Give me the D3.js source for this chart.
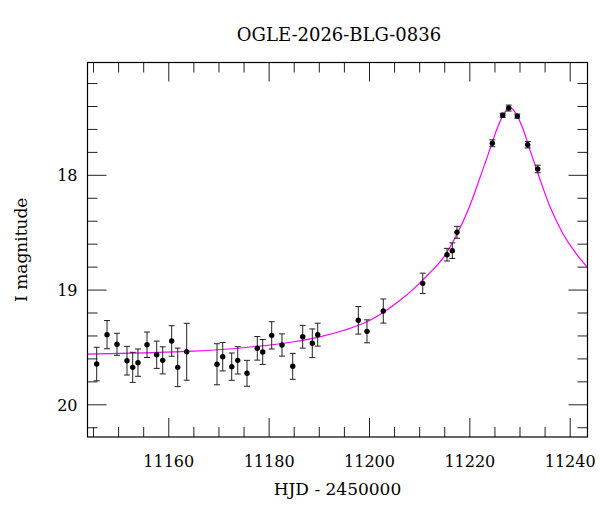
<!DOCTYPE html>
<html>
<head>
<meta charset="utf-8">
<script src="https://cdn.jsdelivr.net/npm/d3@7"></script>
<style>
  html, body { margin: 0; padding: 0; background: #fff; }
  svg { display: block; }
  text { font-family: "DejaVu Serif", serif; fill: #000; }
</style>
</head>
<body>
<svg id="chart" width="600" height="512"></svg>
<script>
// ---- data ----
const titleText = "OGLE-2026-BLG-0836";
const xLabel = "HJD - 2450000";
const yLabel = "I magnitude";

const days = [11145.73, 11147.79, 11149.78, 11151.77, 11152.91, 11153.96, 11155.76, 11157.69, 11158.89, 11160.68,
              11161.88, 11163.67, 11169.71, 11170.85, 11172.64, 11173.84, 11175.69, 11177.74, 11178.82, 11180.61,
              11182.66, 11184.80, 11186.79, 11188.70, 11189.78, 11197.87, 11199.60, 11202.85, 11210.71, 11215.55,
              11216.61, 11217.54, 11224.58, 11226.65, 11227.85, 11229.56, 11231.63, 11233.63];
const mags = [19.649, 19.393, 19.477, 19.620, 19.678, 19.637, 19.481, 19.568, 19.617, 19.448,
              19.678, 19.542, 19.651, 19.585, 19.672, 19.617, 19.730, 19.512, 19.544, 19.399,
              19.483, 19.669, 19.411, 19.468, 19.393, 19.268, 19.364, 19.187, 18.946, 18.696,
              18.661, 18.501, 17.725, 17.481, 17.418, 17.488, 17.738, 17.949];
const errs = [0.146, 0.123, 0.096, 0.125, 0.131, 0.119, 0.111, 0.119, 0.118, 0.133,
              0.168, 0.248, 0.179, 0.124, 0.119, 0.119, 0.113, 0.103, 0.109, 0.119,
              0.097, 0.113, 0.099, 0.125, 0.100, 0.120, 0.100, 0.105, 0.089, 0.055,
              0.068, 0.052, 0.030, 0.018, 0.026, 0.018, 0.028, 0.033];

// model curve samples
const modelDays = [11143.9, 11155, 11165, 11175, 11185, 11190, 11195, 11200, 11203, 11206,
                   11209, 11212, 11215, 11217.5, 11220, 11222, 11224, 11225.5, 11227, 11228.1,
                   11229.2, 11230.7, 11232.2, 11234, 11236, 11238.5, 11241, 11243.6];
const modelMags = [19.563, 19.552, 19.537, 19.507, 19.455, 19.414, 19.355, 19.272, 19.195, 19.10,
                   18.99, 18.86, 18.71, 18.52, 18.28, 18.04, 17.79, 17.60, 17.46, 17.415,
                   17.46, 17.60, 17.80, 18.03, 18.27, 18.50, 18.67, 18.81];

const xMajorTicks = [11160, 11180, 11200, 11220, 11240];
const xMinorTicks = [11145, 11150, 11155, 11165, 11170, 11175, 11185, 11190, 11195, 11205, 11210, 11215, 11225, 11230, 11235];
const yMajorTicks = [18, 19, 20];
const yMinorTicks = [17.2, 17.4, 17.6, 17.8, 18.2, 18.4, 18.6, 18.8, 19.2, 19.4, 19.6, 19.8, 20.2];

// ---- layout ----
const L = 87.5, R = 587.5, T = 62.5, B = 437;
const svg = d3.select("#chart");

const x = d3.scaleLinear().domain([11143.9, 11243.55]).range([L, R]);
const y = d3.scaleLinear().domain([17.021, 20.285]).range([T, B]);

svg.append("defs").append("clipPath").attr("id", "clip")
  .append("rect").attr("x", L).attr("y", T).attr("width", R - L).attr("height", B - T);

function styleAxis(g) {
  g.select(".domain").remove();
  g.selectAll(".tick line").attr("stroke", "#222").attr("stroke-width", 1);
}
const MAJ = 19, MIN = 10;

// bottom
svg.append("g").attr("transform", `translate(0,${B})`)
  .call(d3.axisBottom(x).tickValues(xMajorTicks).tickSize(-MAJ).tickFormat(d3.format("d")))
  .call(styleAxis)
  .call(g => g.selectAll("text").attr("y", 30).attr("dy", 0)
      .style("font-family", "DejaVu Serif").style("font-size", "16px").attr("fill", "#000"));
svg.append("g").attr("transform", `translate(0,${B})`)
  .call(d3.axisBottom(x).tickValues(xMinorTicks).tickSize(-MIN).tickFormat(""))
  .call(styleAxis);
// top
svg.append("g").attr("transform", `translate(0,${T})`)
  .call(d3.axisTop(x).tickValues(xMajorTicks).tickSize(-MAJ).tickFormat(""))
  .call(styleAxis);
svg.append("g").attr("transform", `translate(0,${T})`)
  .call(d3.axisTop(x).tickValues(xMinorTicks).tickSize(-MIN).tickFormat(""))
  .call(styleAxis);
// left
svg.append("g").attr("transform", `translate(${L},0)`)
  .call(d3.axisLeft(y).tickValues(yMajorTicks).tickSize(-MAJ).tickPadding(10).tickFormat(d3.format("d")))
  .call(styleAxis)
  .call(g => g.selectAll("text").attr("dy", "0.36em")
      .style("font-family", "DejaVu Serif").style("font-size", "16px").attr("fill", "#000"));
svg.append("g").attr("transform", `translate(${L},0)`)
  .call(d3.axisLeft(y).tickValues(yMinorTicks).tickSize(-MIN).tickFormat(""))
  .call(styleAxis);
// right
svg.append("g").attr("transform", `translate(${R},0)`)
  .call(d3.axisRight(y).tickValues(yMajorTicks).tickSize(-MAJ).tickFormat(""))
  .call(styleAxis);
svg.append("g").attr("transform", `translate(${R},0)`)
  .call(d3.axisRight(y).tickValues(yMinorTicks).tickSize(-MIN).tickFormat(""))
  .call(styleAxis);

// model curve
const line = d3.line().x(d => x(d[0])).y(d => y(d[1])).curve(d3.curveMonotoneX);
svg.append("path")
  .datum(modelDays.map((d, i) => [d, modelMags[i]]))
  .attr("clip-path", "url(#clip)")
  .attr("fill", "none")
  .attr("stroke", "#ff00ff")
  .attr("stroke-width", 1.2)
  .attr("d", line);

// data with error bars
const pts = days.map((d, i) => ({ d, m: mags[i], e: errs[i] }));
const eb = svg.append("g").attr("clip-path", "url(#clip)")
  .attr("stroke", "#222").attr("stroke-width", 1);
eb.selectAll("line.v").data(pts).join("line").attr("class", "v")
  .attr("x1", p => x(p.d)).attr("x2", p => x(p.d))
  .attr("y1", p => y(p.m - p.e)).attr("y2", p => y(p.m + p.e));
eb.selectAll("line.t").data(pts).join("line").attr("class", "t")
  .attr("x1", p => x(p.d) - 3).attr("x2", p => x(p.d) + 3)
  .attr("y1", p => y(p.m - p.e)).attr("y2", p => y(p.m - p.e));
eb.selectAll("line.b").data(pts).join("line").attr("class", "b")
  .attr("x1", p => x(p.d) - 3).attr("x2", p => x(p.d) + 3)
  .attr("y1", p => y(p.m + p.e)).attr("y2", p => y(p.m + p.e));
svg.append("g").attr("clip-path", "url(#clip)")
  .selectAll("circle").data(pts).join("circle")
  .attr("cx", p => x(p.d)).attr("cy", p => y(p.m)).attr("r", 2.7).attr("fill", "#000");

// frame
svg.append("rect").attr("x", L).attr("y", T).attr("width", R - L).attr("height", B - T)
  .attr("fill", "none").attr("stroke", "#000").attr("stroke-width", 1.2);

// labels
svg.append("text").attr("x", 339).attr("y", 41).attr("text-anchor", "middle")
  .style("font-size", "18px").text(titleText);
svg.append("text").attr("x", (L + R) / 2).attr("y", 495).attr("text-anchor", "middle")
  .style("font-size", "17px").text(xLabel);
svg.append("text").attr("transform", `translate(26.5,${(T + B) / 2}) rotate(-90)`)
  .attr("text-anchor", "middle").style("font-size", "17px").text(yLabel);
</script>
</body>
</html>
